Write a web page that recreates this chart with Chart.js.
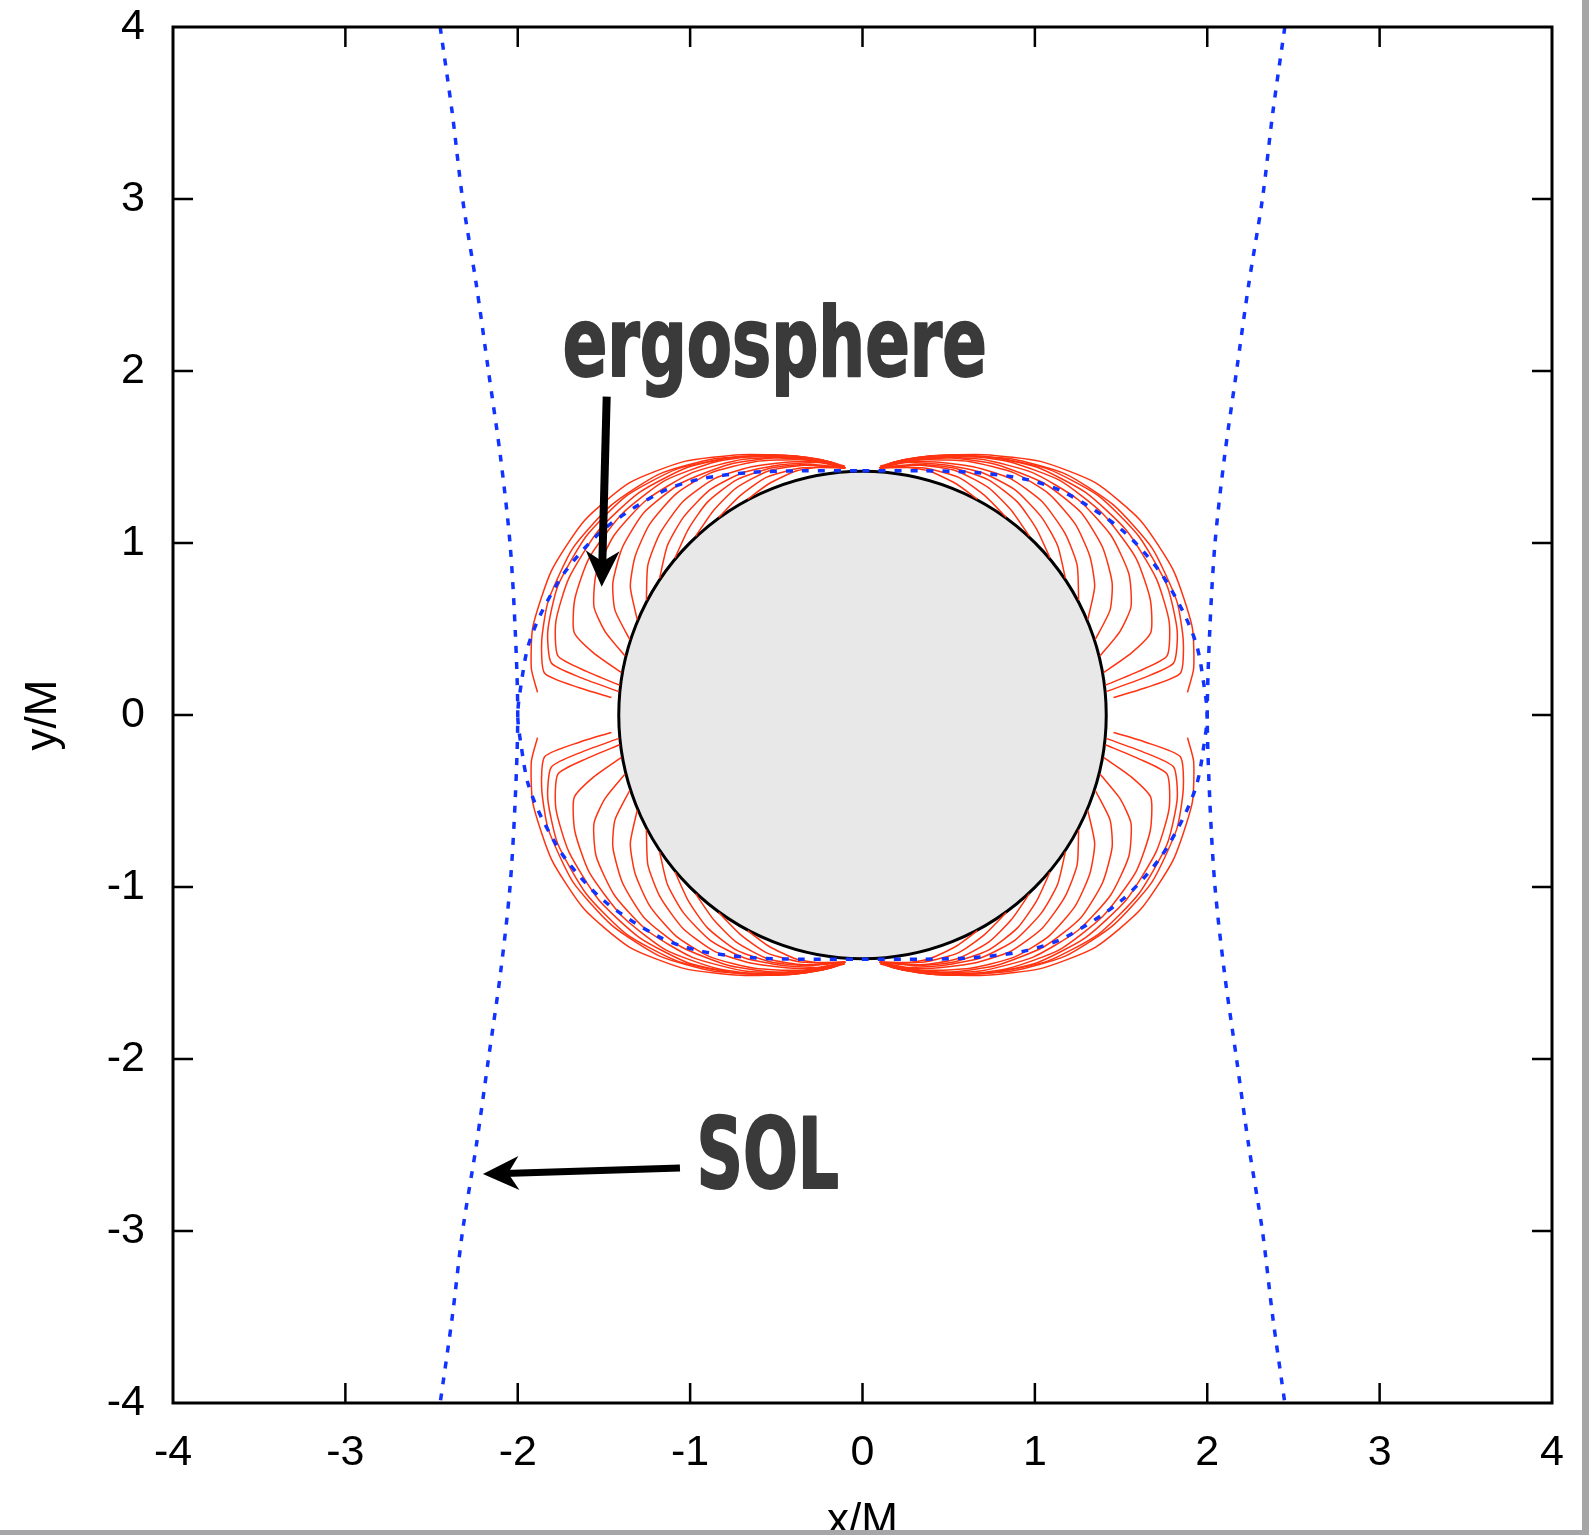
<!DOCTYPE html>
<html>
<head>
<meta charset="utf-8">
<script src="https://cdn.jsdelivr.net/npm/chart.js@4.4.1/dist/chart.umd.min.js"></script>
<style>
  html, body { margin: 0; padding: 0; background: #fff; }
  #wrap { width: 1589px; height: 1535px; }
</style>
</head>
<body>
<div id="wrap"><canvas id="chart" width="1589" height="1535"></canvas></div>
<script>
// axis ticks (x/M and y/M)
const axisTicks = [-4, -3, -2, -1, 0, 1, 2, 3, 4];

// horizon (grey disc) radius
const horizonRadius = 1.414;

// ergosphere boundary, first quadrant (top -> equator)
const ergoQuadX = [0, 0.35, 0.65, 0.95, 1.18, 1.50, 1.72, 1.86, 1.94, 1.98, 2.0];
const ergoQuadY = [1.42, 1.42, 1.41, 1.37, 1.29, 1.08, 0.84, 0.60, 0.40, 0.18, 0];

// speed-of-light surface (|x| for each y)
const solY = [4, 3.5, 3, 2.5, 2, 1.5, 1, 0.5, 0, -0.5, -1, -1.5, -2, -2.5, -3, -3.5, -4];
const solX = [2.45, 2.38, 2.32, 2.24, 2.17, 2.10, 2.045, 2.015, 2.0, 2.015, 2.045, 2.10, 2.17, 2.24, 2.32, 2.38, 2.45];

// red contours of one lobe, [angle from equator (deg), radius]
const contourLobe = [
  [[4, 1.89], [8, 1.94], [15, 1.98], [25, 1.99], [35, 1.97], [45, 1.91], [55, 1.80], [65, 1.67], [75, 1.56], [82, 1.49], [86, 1.45]],
  [[4, 1.46], [5.5, 1.65], [7.5, 1.86], [13, 1.91], [20, 1.94], [30, 1.94], [40, 1.90], [50, 1.83], [60, 1.72], [70, 1.60], [78, 1.52], [83, 1.48], [86, 1.44]],
  [[5.5, 1.42], [7.5, 1.64], [9.5, 1.83], [15, 1.89], [23, 1.92], [33, 1.91], [43, 1.87], [53, 1.79], [63, 1.68], [73, 1.57], [81, 1.50], [86, 1.44]],
  [[7, 1.42], [9, 1.62], [11, 1.80], [17, 1.86], [25, 1.88], [35, 1.87], [45, 1.83], [55, 1.76], [65, 1.66], [75, 1.56], [82, 1.49], [86, 1.44]],
  [[10, 1.42], [13, 1.60], [16, 1.74], [22, 1.80], [30, 1.83], [40, 1.82], [50, 1.78], [60, 1.70], [70, 1.61], [78, 1.53], [83, 1.48], [86, 1.44]],
  [[14, 1.42], [18, 1.57], [22, 1.68], [28, 1.75], [36, 1.78], [45, 1.77], [55, 1.72], [65, 1.64], [74, 1.56], [81, 1.50], [86, 1.44]],
  [[18, 1.42], [23, 1.56], [28, 1.64], [35, 1.70], [43, 1.73], [52, 1.71], [62, 1.65], [71, 1.58], [79, 1.51], [86, 1.44]],
  [[23, 1.42], [29, 1.54], [35, 1.61], [42, 1.66], [50, 1.68], [58, 1.66], [67, 1.60], [76, 1.53], [82, 1.48], [86, 1.44]],
  [[28, 1.42], [35, 1.52], [42, 1.58], [50, 1.62], [58, 1.62], [66, 1.58], [74, 1.53], [81, 1.49], [86, 1.44]],
  [[34, 1.42], [41, 1.50], [48, 1.55], [56, 1.58], [64, 1.57], [72, 1.53], [80, 1.49], [86, 1.44]],
  [[40, 1.42], [47, 1.48], [54, 1.53], [62, 1.55], [70, 1.53], [78, 1.49], [86, 1.44]],
  [[47, 1.42], [54, 1.47], [61, 1.51], [69, 1.52], [77, 1.49], [86, 1.44]],
  [[54, 1.42], [61, 1.46], [68, 1.49], [76, 1.48], [86, 1.44]],
  [[62, 1.42], [68, 1.45], [75, 1.47], [82, 1.46], [86, 1.44]]
];

// annotations (data coordinates)
const ergoLabel = { text: 'ergosphere', left: -1.745, right: 0.727, baseline: 1.971 };
const solLabel = { text: 'SOL', left: -0.969, right: -0.131, baseline: -2.75 };
const ergoArrow = { from: [-1.484, 1.851], to: [-1.513, 0.746] };
const solArrow = { from: [-1.059, -2.634], to: [-2.202, -2.669] };

const RED = '#ff3311';
const BLUE = '#1133ff';
const TEXT_DARK = '#3a3a3a';

// ---- build datasets ----
const lobeAngles = [t => t, t => 180 - t, t => -t, t => 180 + t];
const datasets = [];

const ergoPts = [];
for (let i = 0; i < ergoQuadX.length; i++) ergoPts.push({ x: ergoQuadX[i], y: ergoQuadY[i] });
for (let i = ergoQuadX.length - 2; i >= 0; i--) ergoPts.push({ x: ergoQuadX[i], y: -ergoQuadY[i] });
for (let i = 1; i < ergoQuadX.length; i++) ergoPts.push({ x: -ergoQuadX[i], y: -ergoQuadY[i] });
for (let i = ergoQuadX.length - 2; i >= 0; i--) ergoPts.push({ x: -ergoQuadX[i], y: ergoQuadY[i] });

const dotted = { showLine: true, pointRadius: 0, borderColor: BLUE, borderWidth: 3.5, borderDash: [7, 9], tension: 0.3, order: 0, fill: false };
datasets.push(Object.assign({ label: 'ergosphere', data: ergoPts }, dotted));
datasets.push(Object.assign({ label: 'SOL left', data: solY.map((y, i) => ({ x: -solX[i], y })) }, dotted));
datasets.push(Object.assign({ label: 'SOL right', data: solY.map((y, i) => ({ x: solX[i], y })) }, dotted));

lobeAngles.forEach(angleOf => {
  contourLobe.forEach(c => {
    datasets.push({
      label: 'contour',
      data: c.map(([t, r]) => {
        const a = angleOf(t) * Math.PI / 180;
        return { x: r * Math.cos(a), y: r * Math.sin(a) };
      }),
      showLine: true, pointRadius: 0, borderColor: RED, borderWidth: 1.5,
      tension: 0.2, order: 1, fill: false
    });
  });
});

// ---- plugins ----
const horizonPlugin = {
  id: 'horizon',
  beforeDatasetsDraw(chart) {
    const { ctx, scales: { x, y } } = chart;
    const cx = x.getPixelForValue(0), cy = y.getPixelForValue(0);
    const rad = x.getPixelForValue(horizonRadius) - cx;
    ctx.save();
    ctx.beginPath();
    ctx.arc(cx, cy, rad, 0, Math.PI * 2);
    ctx.fillStyle = '#e8e8e8';
    ctx.fill();
    ctx.lineWidth = 3;
    ctx.strokeStyle = '#000';
    ctx.stroke();
    ctx.restore();
  }
};

function drawArrow(ctx, x, y, a, width, headLen, headHalf) {
  const x0 = x.getPixelForValue(a.from[0]), y0 = y.getPixelForValue(a.from[1]);
  const x1 = x.getPixelForValue(a.to[0]), y1 = y.getPixelForValue(a.to[1]);
  const len = Math.hypot(x1 - x0, y1 - y0);
  const ux = (x1 - x0) / len, uy = (y1 - y0) / len;
  const px = -uy, py = ux;
  ctx.save();
  ctx.strokeStyle = '#000';
  ctx.fillStyle = '#000';
  ctx.lineWidth = width;
  ctx.beginPath();
  ctx.moveTo(x0, y0);
  ctx.lineTo(x1 - ux * headLen * 0.6, y1 - uy * headLen * 0.6);
  ctx.stroke();
  const bx = x1 - ux * headLen, by = y1 - uy * headLen;
  ctx.beginPath();
  ctx.moveTo(x1, y1);
  ctx.lineTo(bx + px * headHalf, by + py * headHalf);
  ctx.lineTo(x1 - ux * headLen * 0.7, y1 - uy * headLen * 0.7);
  ctx.lineTo(bx - px * headHalf, by - py * headHalf);
  ctx.closePath();
  ctx.fill();
  ctx.restore();
}

function drawFitted(ctx, x, y, lab, size) {
  const l = x.getPixelForValue(lab.left), r = x.getPixelForValue(lab.right);
  const b = y.getPixelForValue(lab.baseline);
  ctx.save();
  ctx.font = 'bold ' + size + 'px "Liberation Sans Narrow", "DejaVu Sans Condensed", sans-serif';
  ctx.fillStyle = TEXT_DARK;
  ctx.strokeStyle = TEXT_DARK;
  ctx.lineWidth = 2;
  ctx.lineJoin = 'round';
  ctx.textBaseline = 'alphabetic';
  ctx.textAlign = 'left';
  const w = ctx.measureText(lab.text).width;
  ctx.translate(l + 1, b);
  ctx.scale((r - l - 2) / w, 1);
  ctx.fillText(lab.text, 0, 0);
  ctx.strokeText(lab.text, 0, 0);
  ctx.restore();
}

const framePlugin = {
  id: 'frame',
  afterDraw(chart) {
    const { ctx, chartArea: ca, scales: { x, y } } = chart;
    ctx.save();
    ctx.strokeStyle = '#000';
    // inward ticks on all four sides
    ctx.lineWidth = 2.5;
    axisTicks.slice(1, -1).forEach(v => {
      const px = x.getPixelForValue(v), py = y.getPixelForValue(v);
      ctx.beginPath();
      ctx.moveTo(px, ca.bottom); ctx.lineTo(px, ca.bottom - 20);
      ctx.moveTo(px, ca.top); ctx.lineTo(px, ca.top + 20);
      ctx.moveTo(ca.left, py); ctx.lineTo(ca.left + 20, py);
      ctx.moveTo(ca.right, py); ctx.lineTo(ca.right - 20, py);
      ctx.stroke();
    });
    ctx.lineWidth = 3;
    ctx.strokeRect(ca.left, ca.top, ca.right - ca.left, ca.bottom - ca.top);

    // axis titles
    ctx.fillStyle = '#000';
    ctx.font = '44px "Liberation Sans", Arial, sans-serif';
    ctx.textAlign = 'center';
    ctx.textBaseline = 'alphabetic';
    ctx.fillText('x/M', (ca.left + ca.right) / 2, 1534);
    ctx.save();
    ctx.translate(56, (ca.top + ca.bottom) / 2);
    ctx.rotate(-Math.PI / 2);
    ctx.fillText('y/M', 0, 0);
    ctx.restore();

    // annotations
    drawFitted(ctx, x, y, ergoLabel, 96);
    drawFitted(ctx, x, y, solLabel, 98);
    drawArrow(ctx, x, y, ergoArrow, 8, 36, 17);
    drawArrow(ctx, x, y, solArrow, 7, 36, 17);

    // grey page border (bottom and right)
    ctx.fillStyle = '#a6a6a8';
    ctx.fillRect(0, 1530, 1589, 5);
    ctx.fillRect(1582, 0, 7, 1535);
    ctx.restore();
  }
};

const tickFont = { family: '"Liberation Sans", Arial, sans-serif', size: 43 };

new Chart(document.getElementById('chart'), {
  type: 'scatter',
  data: { datasets },
  options: {
    responsive: false,
    animation: false,
    layout: { padding: { top: 27, right: 37, left: 0, bottom: 0 } },
    plugins: { legend: { display: false }, tooltip: { enabled: false } },
    scales: {
      x: {
        type: 'linear', min: -4, max: 4,
        afterBuildTicks: s => { s.ticks = axisTicks.map(v => ({ value: v })); },
        afterFit: s => { s.height = 132; s.paddingLeft = 0; s.paddingRight = 0; },
        ticks: { font: tickFont, color: '#000', padding: 24, maxRotation: 0 },
        grid: { display: false, drawTicks: false },
        border: { display: false }
      },
      y: {
        type: 'linear', min: -4, max: 4,
        afterBuildTicks: s => { s.ticks = axisTicks.map(v => ({ value: v })); },
        afterFit: s => { s.width = 173; s.paddingTop = 0; s.paddingBottom = 0; },
        ticks: { font: tickFont, color: '#000', padding: 28 },
        grid: { display: false, drawTicks: false },
        border: { display: false }
      }
    }
  },
  plugins: [horizonPlugin, framePlugin]
});
</script>
</body>
</html>
